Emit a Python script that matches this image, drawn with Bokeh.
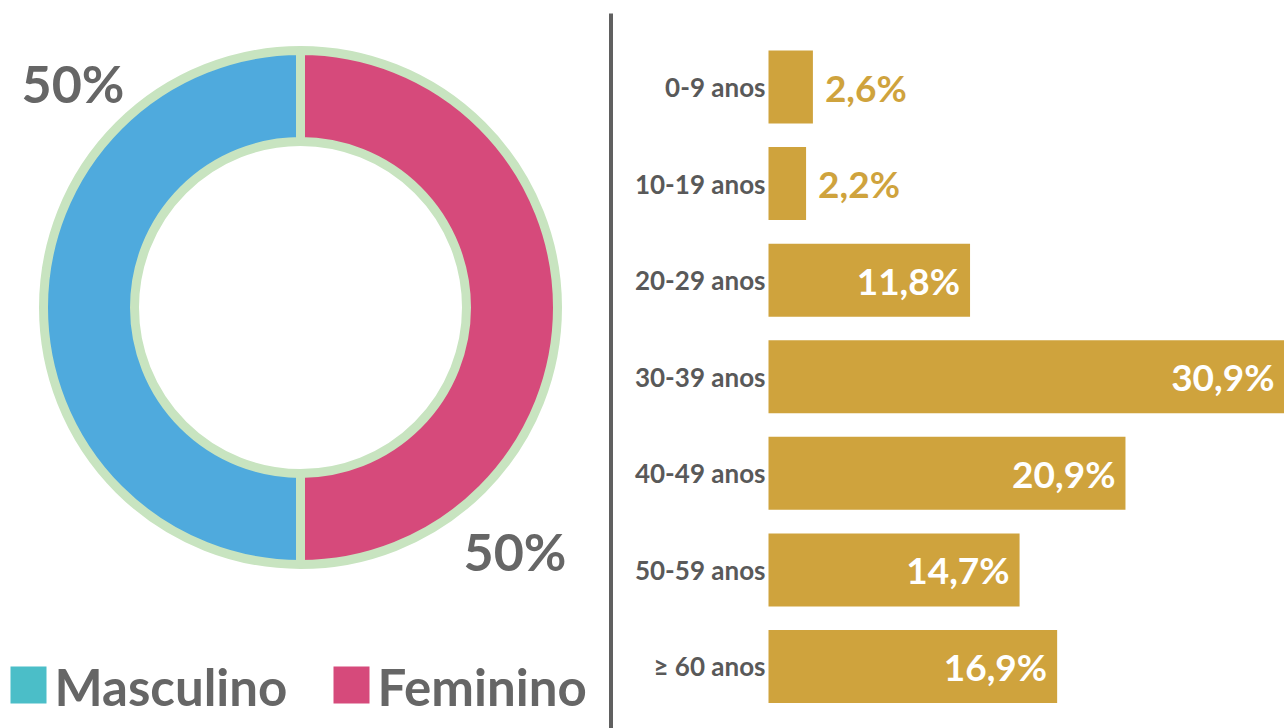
import math
from bokeh.plotting import figure
from bokeh.models import Range1d, ColumnDataSource
from bokeh.core.properties import value
from bokeh.embed import file_html
from bokeh.resources import INLINE

# ---- data ----
genders = ["Masculino", "Feminino"]
gender_shares = [50, 50]
gender_colors = ["#4FAADD", "#D64A7B"]
legend_colors = ["#4BBEC8", "#D64A7B"]

age_groups = ["0-9 anos", "10-19 anos", "20-29 anos", "30-39 anos",
              "40-49 anos", "50-59 anos", "≥ 60 anos"]
age_shares = [2.6, 2.2, 11.8, 30.9, 20.9, 14.7, 16.9]

FONT = value("Lato")
GRAY = "#666666"
GOLD = "#CFA33D"
GREEN = "#C8E4C0"

W, H = 1284, 728
p = figure(width=W, height=H, x_range=Range1d(0, W), y_range=Range1d(0, H),
           output_backend="svg", toolbar_location=None, min_border=0,
           x_axis_location=None, y_axis_location=None, outline_line_color=None)
p.grid.visible = False

# ---- donut ----
cx, cy = 300, 421
starts, ends = [], []
acc = 0.0
for s in gender_shares:
    starts.append(math.radians(90 + acc * 3.6))
    acc += s
    ends.append(math.radians(90 + acc * 3.6))
dsrc = ColumnDataSource(dict(x=[cx] * len(genders), y=[cy] * len(genders),
                             start=starts, end=ends, color=gender_colors))
p.annular_wedge(x="x", y="y", inner_radius=166, outer_radius=257,
                start_angle="start", end_angle="end", fill_color="color",
                line_color=GREEN, line_width=9, source=dsrc)

pct_txt = [f"{s}%" for s in gender_shares]
p.text(x=[21], y=[728 - 82], text=[pct_txt[0]], text_font=FONT, text_font_style="bold",
       text_font_size="52px", text_color=GRAY, text_align="left", text_baseline="middle")
p.text(x=[463], y=[728 - 550], text=[pct_txt[1]], text_font=FONT, text_font_style="bold",
       text_font_size="52px", text_color=GRAY, text_align="left", text_baseline="middle")

# ---- legend ----
leg_x = [10, 333]
p.rect(x=[lx + 18 for lx in leg_x], y=[728 - 684.5] * 2, width=36, height=37,
       fill_color=legend_colors, line_color=None)
p.text(x=[lx + 44 for lx in leg_x], y=[728 - 686] * 2, text=genders, text_font=FONT,
       text_font_style="bold", text_font_size="51px", text_color=GRAY,
       text_align="left", text_baseline="middle")

# ---- divider ----
p.segment(x0=[610.5], y0=[0], x1=[610.5], y1=[728 - 13], line_width=4, line_color="#606060")

# ---- bars ----
px_per_pct = 17.08
bar_left = 768
row0, row_step = 86.5, 96.58
pct_max = (W - bar_left) / px_per_pct
p.extra_x_ranges = {"pct": Range1d(-bar_left / px_per_pct, pct_max)}
p.extra_y_ranges = {"row": Range1d(start=(H - row0) / row_step, end=-row0 / row_step)}

idx = list(range(len(age_groups)))
bsrc = ColumnDataSource(dict(y=idx, v=age_shares, cat=age_groups,
                             lab=[f"{v:.1f}%".replace(".", ",") for v in age_shares]))
p.hbar(y="y", left=0, right="v", height=73 / row_step, fill_color=GOLD, line_color=None,
       source=bsrc, x_range_name="pct", y_range_name="row")

p.text(x=[0] * len(idx), y=idx, text=age_groups, x_offset=-3, text_font=FONT,
       text_font_style="bold", text_font_size="26px", text_color="#595959",
       text_align="right", text_baseline="middle", x_range_name="pct", y_range_name="row")

out_i = [i for i, v in enumerate(age_shares) if v < 5]
in_i = [i for i, v in enumerate(age_shares) if v >= 5]
lab = bsrc.data["lab"]
p.text(x=[age_shares[i] for i in out_i], y=out_i, text=[lab[i] for i in out_i], x_offset=12,
       text_font=FONT, text_font_style="bold", text_font_size="37px", text_color=GOLD,
       text_align="left", text_baseline="middle", x_range_name="pct", y_range_name="row")
# keep inside labels within the visible area (the longest bar runs past the edge)
p.text(x=[min(age_shares[i], pct_max) for i in in_i], y=in_i, text=[lab[i] for i in in_i],
       x_offset=-10, text_font=FONT, text_font_style="bold", text_font_size="37px",
       text_color="white", text_align="right", text_baseline="middle",
       x_range_name="pct", y_range_name="row")

open("out.html", "w").write(file_html(p, INLINE))
